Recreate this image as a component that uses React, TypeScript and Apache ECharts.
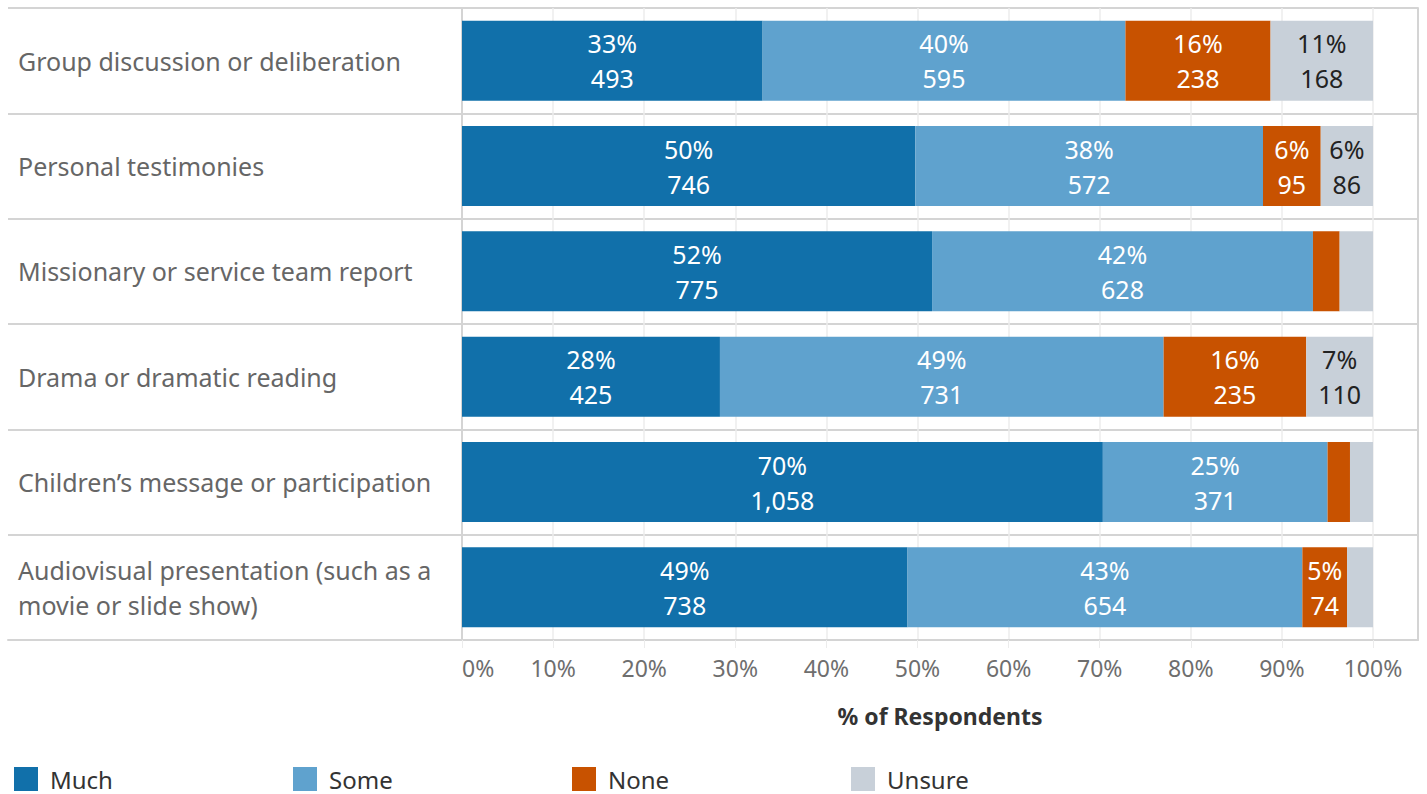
import React, { useEffect, useRef } from "react";
import * as echarts from "echarts";

const categories = [
  "Group discussion or deliberation",
  "Personal testimonies",
  "Missionary or service team report",
  "Drama or dramatic reading",
  "Children\u2019s message or participation",
  "Audiovisual presentation (such as a movie or slide show)",
];
const seriesNames = ["Much", "Some", "None", "Unsure"];
const muchCounts = [493, 746, 775, 425, 1058, 738];
const someCounts = [595, 572, 628, 731, 371, 654];
const noneCounts = [238, 95, 44, 235, 37, 74];
const unsureCounts = [168, 86, 55, 110, 38, 43];
const colors = ["#1170aa", "#5fa2ce", "#c85200", "#c8d0d9"];
const labelColors = ["#ffffff", "#ffffff", "#ffffff", "#222222"];
const xTicks = [0, 10, 20, 30, 40, 50, 60, 70, 80, 90, 100];

const FONT = "'Noto Sans', sans-serif";

export default function App() {
  const ref = useRef<HTMLDivElement>(null);
  useEffect(() => {
    if (!ref.current) return;
    const chart = echarts.init(ref.current, undefined, { renderer: "svg" });
    const counts = [muchCounts, someCounts, noneCounts, unsureCounts];
    const totals = categories.map((_, i) => counts.reduce((s, arr) => s + arr[i], 0));
    const pct = counts.map((arr) => arr.map((v, i) => (v / totals[i]) * 100));
    // grid spans 462..1418; 0 at 462, 100 at 1373
    const xMax = ((1418 - 462) / (1373 - 462)) * 100;

    const series = seriesNames.map((name, si) => ({
      name,
      type: "bar",
      stack: "total",
      xAxisIndex: 0,
      yAxisIndex: 0,
      barWidth: 80,
      data: pct[si],
      itemStyle: { color: colors[si] },
      label: {
        show: true,
        position: "inside",
        color: labelColors[si],
        fontSize: 25,
        lineHeight: 35,
        fontFamily: FONT,
        formatter: (p: any) => {
          const v = p.value as number;
          if (v < 4) return "";
          return Math.round(v) + "%\n" + counts[si][p.dataIndex].toLocaleString("en-US");
        },
      },
    }));

    const legends = seriesNames.map((name, i) => ({
      data: [name],
      left: 14 + i * 279,
      top: 767,
      padding: 0,
      itemWidth: 24,
      itemHeight: 24,
      icon: "rect",
      itemGap: 0,
      textStyle: { fontSize: 24, color: "#333", fontFamily: FONT, padding: [0, 0, 0, 7] },
      selectedMode: false,
    }));

    chart.setOption({
      animation: false,
      textStyle: { fontFamily: FONT },
      legend: legends,
      grid: [
        { left: 462, right: 9, top: 8, bottom: 154 },
        { left: 8, width: 454, top: 8, bottom: 154 },
      ],
      xAxis: [
        {
          type: "value",
          gridIndex: 0,
          min: 0,
          max: xMax,
          interval: 10,
          name: "% of Respondents",
          nameLocation: "middle",
          nameGap: 64,
          nameTextStyle: { fontSize: 23, fontWeight: "bold", color: "#333", fontFamily: FONT },
          axisLine: { show: true, lineStyle: { color: "#d4d4d4", width: 2 } },
          axisTick: { show: true, length: 8, lineStyle: { color: "#ececec" } },
          splitLine: { show: true, lineStyle: { color: "#ececec", width: 1.5 } },
          axisLabel: {
            fontSize: 23,
            color: "#6e6e6e",
            margin: 16,
            fontFamily: FONT,
            showMaxLabel: false,
            alignMinLabel: "left",
            formatter: (v: number) => (xTicks.indexOf(Math.round(v)) >= 0 ? Math.round(v) + "%" : ""),
          },
        },
        {
          type: "value",
          gridIndex: 1,
          min: 0,
          max: 1,
          axisLine: { show: true, lineStyle: { color: "#d4d4d4", width: 2 } },
          axisTick: { show: false },
          splitLine: { show: false },
          axisLabel: { show: false },
        },
      ],
      yAxis: [
        {
          type: "category",
          gridIndex: 0,
          data: categories,
          inverse: true,
          axisLine: { show: true, lineStyle: { color: "#d4d4d4", width: 2 } },
          axisTick: { show: false },
          axisLabel: { show: false },
          splitLine: { show: true, lineStyle: { color: "#d4d4d4", width: 2 } },
        },
        {
          type: "category",
          gridIndex: 1,
          data: categories,
          inverse: true,
          axisLine: { show: false },
          axisTick: { show: false },
          splitLine: { show: true, lineStyle: { color: "#d4d4d4", width: 2 } },
          axisLabel: {
            inside: true,
            margin: 10,
            align: "left",
            fontSize: 25,
            lineHeight: 35,
            color: "#666",
            fontFamily: FONT,
            formatter: (s: string) => s.replace("(such as a ", "(such as a\n"),
          },
        },
        {
          type: "category",
          gridIndex: 0,
          position: "right",
          data: categories,
          inverse: true,
          axisLine: { show: true, lineStyle: { color: "#d4d4d4", width: 2 } },
          axisTick: { show: false },
          axisLabel: { show: false },
          splitLine: { show: false },
        },
      ],
      series,
    });
    return () => chart.dispose();
  }, []);
  return <div ref={ref} style={{ width: 1427, height: 794, position: "absolute", left: 0, top: 0 }} />;
}
